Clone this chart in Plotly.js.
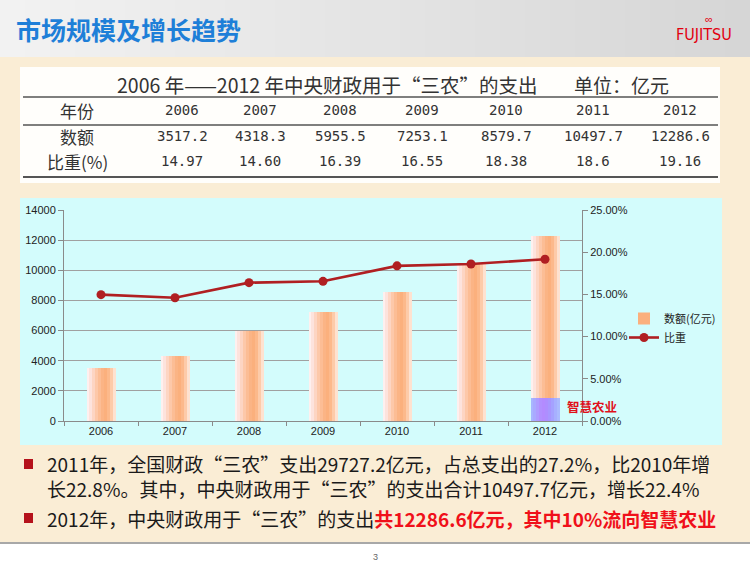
<!DOCTYPE html>
<html>
<head>
<meta charset="utf-8">
<script src="https://cdn.plot.ly/plotly-3.0.1.min.js"></script>
<style>html,body{margin:0;padding:0;background:#faedd5;}#chart{width:750px;height:562px;}</style>
</head>
<body>
<div id="chart"></div>
<script>
// ---------- data ----------
const years = ['2006', '2007', '2008', '2009', '2010', '2011', '2012'];
const amounts = [3517.2, 4318.3, 5955.5, 7253.1, 8579.7, 10497.7, 12286.6];
const amountLabels = ['3517.2', '4318.3', '5955.5', '7253.1', '8579.7', '10497.7', '12286.6'];
const shares = [14.97, 14.60, 16.39, 16.55, 18.38, 18.6, 19.16];
const shareLabels = ['14.97', '14.60', '16.39', '16.55', '18.38', '18.6', '19.16'];
const smartAgYears = ['2012'];
const smartAg = [1500];
const rowLabels = ['年份', '数额', '比重(%)'];
const tableTitle = '2006 年——2012 年中央财政用于“三农”的支出';
const tableUnit = '单位：亿元';
const pageTitle = '市场规模及增长趋势';
const bullet1a = '2011年，全国财政“三农”支出29727.2亿元，占总支出的27.2%，比2010年增';
const bullet1b = '长22.8%。其中，中央财政用于“三农”的支出合计10497.7亿元，增长22.4%';
const bullet2a = '2012年，中央财政用于“三农”的支出';
const bullet2b = '共12286.6亿元，其中10%流向智慧农业';

// ---------- geometry helpers (pixel -> paper) ----------
const L = 64, R = 582, T = 210, B = 421;
const W = R - L, H = B - T;
const px = x => (x - L) / W;
const py = y => (B - y) / H;

const CJK = '"Noto Sans CJK SC", "Noto Sans", sans-serif';
const SANS = 'Liberation Sans, Arial, sans-serif';
const MONO = 'DejaVu Sans Mono, monospace';

const traces = [];
// bar gradient via overlaid strips
const barColors = ['#fef0ef', '#fde3dd', '#fdd5c3', '#fdc8a9', '#fcbd95', '#fbb485', '#fbb07d', '#fcb98b', '#fdcba9', '#fee2d0'];
const totalW = 0.39;
const sw = totalW / barColors.length;
barColors.forEach((c, i) => {
  traces.push({
    type: 'bar', x: years, y: amounts, name: '数额(亿元)',
    width: sw * 1.08, offset: -totalW / 2 + i * sw,
    marker: {color: c, line: {width: 0}},
    showlegend: i === 6, legendrank: 1, hoverinfo: 'skip'
  });
});
const agColors = ['#a8b6ff', '#a9aaff', '#ae9dff', '#b290ff', '#b38bff', '#ae8eff', '#a896ff', '#a5a2ff', '#a7b0ff', '#abbbff'];
agColors.forEach((c, i) => {
  traces.push({
    type: 'bar', x: smartAgYears, y: smartAg, name: '智慧农业',
    width: sw * 1.08, offset: -totalW / 2 + i * sw,
    marker: {color: c, line: {width: 0}},
    showlegend: false, hoverinfo: 'skip'
  });
});
traces.push({
  type: 'scatter', mode: 'lines+markers', x: years, y: shares, yaxis: 'y2', name: '比重',
  line: {color: '#b01f22', width: 2.6}, marker: {color: '#b01f22', size: 9},
  legendrank: 2
});

// ---------- shapes ----------
const shapes = [];
// header gradient
const hN = 30;
for (let i = 0; i < hN; i++) {
  const t = i / (hN - 1);
  const v = Math.round(0xf2 - t * (0xf2 - 0xd6));
  const col = `rgb(${v},${v},${v})`;
  shapes.push({type: 'rect', xref: 'paper', yref: 'paper', layer: 'below',
    x0: px(i * 750 / hN), x1: px((i + 1) * 750 / hN + 1), y0: py(57), y1: py(0),
    fillcolor: col, line: {width: 0}});
}
// table box
shapes.push({type: 'rect', xref: 'paper', yref: 'paper', layer: 'below',
  x0: px(20), x1: px(720), y0: py(183), y1: py(67), fillcolor: '#fffefb', line: {width: 0}});
// table lines
[[97, 1.6], [125, 1.4], [177, 2]].forEach(([y, w]) => {
  shapes.push({type: 'line', xref: 'paper', yref: 'paper', layer: 'below',
    x0: px(23), x1: px(718), y0: py(y), y1: py(y), line: {color: '#555', width: w}});
});
// chart area
shapes.push({type: 'rect', xref: 'paper', yref: 'paper', layer: 'below',
  x0: px(20), x1: px(722), y0: py(445), y1: py(198), fillcolor: '#d3fcfc', line: {width: 0}});
// bullets
[464, 518].forEach(y => {
  shapes.push({type: 'rect', xref: 'paper', yref: 'paper', layer: 'below',
    x0: px(24), x1: px(33), y0: py(y + 5), y1: py(y - 5), fillcolor: '#b5121b', line: {width: 0}});
});
// footer
shapes.push({type: 'rect', xref: 'paper', yref: 'paper', layer: 'below',
  x0: px(0), x1: px(750), y0: py(562), y1: py(542), fillcolor: '#ffffff', line: {width: 0}});
shapes.push({type: 'line', xref: 'paper', yref: 'paper', layer: 'below',
  x0: px(0), x1: px(750), y0: py(543), y1: py(543), line: {color: '#a8a8a8', width: 2}});

// ---------- annotations ----------
const ann = [];
const A = (x, y, text, font, xanchor = 'center', yanchor = 'middle') =>
  ann.push({xref: 'paper', yref: 'paper', x: px(x), y: py(y), text, showarrow: false, font, xanchor, yanchor, align: xanchor});

A(14, 29, '<b>' + pageTitle + '</b>', {family: CJK, size: 25, color: '#1e7fd8'}, 'left');
A(704, 34, 'FUJITSU', {family: '"DejaVu Sans Condensed", "Liberation Sans Narrow", "Liberation Sans", sans-serif', size: 16, color: '#e2000f'});
A(709, 19, '∞', {family: SANS, size: 11, color: '#e2000f'});

A(115, 84, tableTitle, {family: CJK, size: 19.5, color: '#333'}, 'left');
A(572, 84, tableUnit, {family: CJK, size: 19, color: '#333'}, 'left');
const colX = [182, 260, 340, 422, 506, 593, 680];
const rowY = [110, 136, 161];
rowLabels.forEach((t, r) => A(77, rowY[r], t, {family: CJK, size: 17, color: '#333'}));
years.forEach((t, i) => A(colX[i], rowY[0], t, {family: MONO, size: 14, color: '#333'}));
amountLabels.forEach((t, i) => A(colX[i], rowY[1], t, {family: MONO, size: 14, color: '#333'}));
shareLabels.forEach((t, i) => A(colX[i], rowY[2], t, {family: MONO, size: 14, color: '#333'}));

A(565, 406, '<b>智慧农业</b>', {family: CJK, size: 12.5, color: '#e0101a'}, 'left');

A(45, 476, bullet1a + '<br>' + bullet1b, {family: CJK, size: 19, color: '#1a1a1a'}, 'left');
A(45, 518, bullet2a + '<span style="color:#f0101a"><b>' + bullet2b + '</b></span>', {family: CJK, size: 19, color: '#1a1a1a'}, 'left');
A(375, 557, '3', {family: SANS, size: 9, color: '#666'});

const layout = {
  width: 750, height: 562,
  margin: {l: L, r: 750 - R, t: T, b: 562 - B, pad: 0},
  paper_bgcolor: '#faedd5', plot_bgcolor: 'rgba(0,0,0,0)',
  barmode: 'overlay', bargap: 0,
  showlegend: true,
  legend: {x: px(624), y: py(304), xanchor: 'left', yanchor: 'top', bgcolor: 'rgba(0,0,0,0)',
    font: {family: CJK, size: 11, color: '#222'}, itemwidth: 30, tracegroupgap: 2, traceorder: 'normal'},
  font: {family: SANS, size: 11, color: '#222'},
  xaxis: {type: 'category', range: [-0.5, 6.5], showline: true, linecolor: '#8a8a8a', linewidth: 1,
    ticks: 'outside', tickson: 'boundaries', ticklen: 4, tickcolor: '#8a8a8a',
    tickfont: {family: SANS, size: 11, color: '#222'}, showgrid: false, fixedrange: true},
  yaxis: {range: [0, 14000], dtick: 2000, tickformat: 'd', showgrid: true, gridcolor: '#a0a0a0', gridwidth: 1,
    showline: true, linecolor: '#8a8a8a', ticks: 'outside', ticklen: 5, tickcolor: '#8a8a8a',
    zeroline: false, tickfont: {family: SANS, size: 11, color: '#222'}, fixedrange: true},
  yaxis2: {overlaying: 'y', side: 'right', range: [0, 25], dtick: 5, tickformat: '.2f', ticksuffix: '%',
    showgrid: false, showline: true, linecolor: '#8a8a8a', ticks: 'outside', ticklen: 5, tickcolor: '#8a8a8a',
    zeroline: false, tickfont: {family: SANS, size: 11, color: '#222'}, fixedrange: true},
  shapes: shapes,
  annotations: ann
};

Plotly.newPlot('chart', traces, layout, {displayModeBar: false, staticPlot: true});
</script>
</body>
</html>
